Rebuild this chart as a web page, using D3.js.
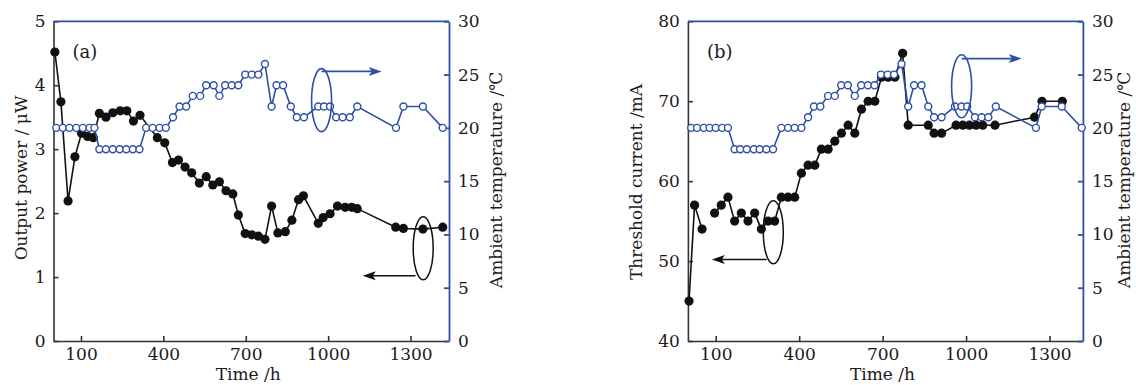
<!DOCTYPE html>
<html>
<head>
<meta charset="utf-8">
<script src="https://cdn.jsdelivr.net/npm/d3@7/dist/d3.min.js"></script>
<style>
  body { margin: 0; background: #fff; }
  svg { display: block; }
  text { font-family: "DejaVu Serif", "Liberation Serif", serif; fill: #1a1a1a; }
</style>
</head>
<body>
<svg id="chart" width="1136" height="385"></svg>
<script>
// ---- data ----
// panel (a): output power (uW) vs time (h)
const powerTime = [5, 27, 53, 78, 102, 124, 145, 167, 191, 216, 243, 267, 291, 315, 378, 405,
  433, 455, 479, 503, 531, 556, 580, 604, 628, 653, 673, 698, 722, 746, 770,
  794, 817, 844, 868, 892, 910, 964, 982, 1007, 1034, 1062, 1086, 1106, 1246, 1274, 1345, 1417]
const power = [4.52, 3.74, 2.19, 2.88, 3.25, 3.20, 3.18, 3.56, 3.50, 3.57, 3.60, 3.60, 3.44, 3.53, 3.18, 3.10,
  2.79, 2.83, 2.72, 2.63, 2.47, 2.57, 2.44, 2.49, 2.35, 2.30, 1.97, 1.68, 1.66, 1.64, 1.59,
  2.11, 1.69, 1.71, 1.89, 2.21, 2.27, 1.84, 1.93, 1.99, 2.11, 2.09, 2.09, 2.07, 1.78, 1.76, 1.75, 1.78]

// panel (b): threshold current (mA) vs time (h); null = break in the line
const currentTime = [4, 24, 51, 75, 96, 120, 144, 168, 192, 216, 240, 264, 288, 312, 336, 360, 384, 408,
  432, 456, 480, 504, 528, 552, 576, 600, 624, 648, 672, 696, 720, 744,
  772, 792, 864, 885, 912, 964, 988, 1012, 1036, 1060, 1104, 1246, 1273, 1346]
const current = [45, 57, 54, null, 56, 57, 58, 55, 56, 55, 56, 54, 55, 55, 58, 58, 58, 61,
  62, 62, 64, 64, 65, 66, 67, 66, 69, 70, 70, 73, 73, 73,
  76, 67, 67, 66, 66, 67, 67, 67, 67, 67, 67, 68, 70, 70]

// ambient temperature (deg C), same record shown in both panels
const tempTimeA = [10, 34, 58, 83, 107, 131, 149, 167, 191, 216, 241, 265, 289, 313, 337, 361, 386, 409,
  435, 459, 483, 507, 534, 556, 583, 604, 625, 649, 673, 698, 722, 746, 770,
  794, 812, 836, 864, 886, 912, 964, 985, 1007, 1029, 1053, 1079, 1106, 1247, 1274, 1345, 1417]
const tempTimeB = [12, 33, 57, 78, 100, 123, 144, 168, 188, 212, 237, 258, 282, 306, 336, 360, 384, 408,
  432, 453, 476, 504, 528, 551, 575, 600, 623, 647, 671, 694, 718, 741, 768,
  792, 813, 840, 864, 885, 912, 960, 984, 1004, 1032, 1056, 1080, 1107, 1251, 1272, 1344, 1416]
const temperature = [20, 20, 20, 20, 20, 20, 20, 18, 18, 18, 18, 18, 18, 18, 20, 20, 20, 20,
  21, 22, 22, 23, 23, 24, 24, 23, 24, 24, 24, 25, 25, 25, 26,
  22, 24, 24, 22, 21, 21, 22, 22, 22, 21, 21, 21, 22, 20, 22, 22, 20]

const timeTicks = [100, 400, 700, 1000, 1300]
const tempTicks = [0, 5, 10, 15, 20, 25, 30]
const powerTicks = [0, 1, 2, 3, 4, 5]
const currentTicks = [40, 50, 60, 70, 80]

const blue = '#2d50a6'
const ink = '#111'
const fmt = d3.format('d')

const svg = d3.select('#chart')
svg.append('rect').attr('width', 1136).attr('height', 385).attr('fill', '#fff')

function zip(xs, ys) {
  return xs.map((x, i) => ({ x: x, y: ys[i] }))
}

function arrowHead(g, x, y, dir, colour) {
  // dir = 1 points right, -1 points left
  const L = 13, W = 4.5, N = 3
  g.append('path')
    .attr('d', 'M' + x + ',' + y +
      'L' + (x - dir * L) + ',' + (y - W) +
      'L' + (x - dir * (L - N)) + ',' + y +
      'L' + (x - dir * L) + ',' + (y + W) + 'Z')
    .attr('fill', colour)
}

function drawPanel(o) {
  const g = svg.append('g')
  const x = d3.scaleLinear().domain([0, o.xMax]).range([o.left, o.right])
  const y = d3.scaleLinear().domain(o.yDomain).range([o.bottom, o.top])
  const yT = d3.scaleLinear().domain([0, 30]).range([o.bottom, o.top])

  // axes
  const xAxis = g.append('g').attr('transform', 'translate(0,' + o.bottom + ')')
    .call(d3.axisBottom(x).tickValues(timeTicks).tickFormat(fmt)
      .tickSizeInner(-5).tickSizeOuter(0).tickPadding(7))
  const yAxis = g.append('g').attr('transform', 'translate(' + o.left + ',0)')
    .call(d3.axisLeft(y).tickValues(o.yTicks).tickFormat(fmt)
      .tickSizeInner(-5).tickSizeOuter(0).tickPadding(8))
  const rAxis = g.append('g').attr('transform', 'translate(' + o.right + ',0)')
    .call(d3.axisRight(yT).tickValues(tempTicks).tickFormat(fmt)
      .tickSizeInner(-5).tickSizeOuter(0).tickPadding(9))

  ;[xAxis, yAxis].forEach(a => {
    a.selectAll('path, line').attr('stroke', '#333').attr('stroke-width', 1.6)
  })
  rAxis.selectAll('path, line').attr('stroke', blue).attr('stroke-width', 1.8)
  ;[xAxis, yAxis, rAxis].forEach(a => {
    a.selectAll('text').attr('font-family', '"DejaVu Serif", serif').attr('font-size', 17).attr('fill', '#1a1a1a')
  })
  // top frame
  g.append('line')
    .attr('x1', o.left).attr('x2', o.right)
    .attr('y1', o.top).attr('y2', o.top)
    .attr('stroke', blue).attr('stroke-width', 1.8)

  // black series
  const black = zip(o.blackT, o.blackV)
  g.append('path')
    .datum(black)
    .attr('fill', 'none')
    .attr('stroke', ink)
    .attr('stroke-width', 1.6)
    .attr('d', d3.line().defined(d => d.y != null).x(d => x(d.x)).y(d => y(d.y)))
  g.selectAll('.dot')
    .data(black.filter(d => d.y != null))
    .join('circle')
    .attr('cx', d => x(d.x))
    .attr('cy', d => y(d.y))
    .attr('r', 4.6)
    .attr('fill', ink)

  // temperature series
  const temp = zip(o.tempT, temperature)
  g.append('path')
    .datum(temp)
    .attr('fill', 'none')
    .attr('stroke', blue)
    .attr('stroke-width', 1.6)
    .attr('d', d3.line().x(d => x(d.x)).y(d => yT(d.y)))
  g.selectAll('.open')
    .data(temp)
    .join('circle')
    .attr('cx', d => x(d.x))
    .attr('cy', d => yT(d.y))
    .attr('r', 3.5)
    .attr('fill', '#fff')
    .attr('stroke', blue)
    .attr('stroke-width', 1.4)

  // ellipse + arrow annotations
  const bl = o.blackNote
  g.append('ellipse')
    .attr('cx', x(bl.t)).attr('cy', y(bl.v))
    .attr('rx', 10).attr('ry', 31.5)
    .attr('fill', 'none').attr('stroke', ink).attr('stroke-width', 1.5)
  g.append('line')
    .attr('x1', x(bl.from)).attr('x2', x(bl.to) + 10)
    .attr('y1', y(bl.arrowV)).attr('y2', y(bl.arrowV))
    .attr('stroke', ink).attr('stroke-width', 1.5)
  arrowHead(g, x(bl.to), y(bl.arrowV), -1, ink)

  const tn = o.tempNote
  g.append('ellipse')
    .attr('cx', x(tn.t)).attr('cy', yT(tn.v))
    .attr('rx', 10).attr('ry', 31.5)
    .attr('fill', 'none').attr('stroke', blue).attr('stroke-width', 1.6)
  g.append('line')
    .attr('x1', x(tn.t)).attr('x2', x(tn.to) - 10)
    .attr('y1', yT(tn.arrowV)).attr('y2', yT(tn.arrowV))
    .attr('stroke', blue).attr('stroke-width', 1.6)
  arrowHead(g, x(tn.to), yT(tn.arrowV), 1, blue)

  // labels
  g.append('text')
    .attr('x', o.left + 19).attr('y', o.top + 37)
    .attr('font-size', 18)
    .text(o.tag)
  g.append('text')
    .attr('x', (o.left + o.right) / 2 - 3).attr('y', 380)
    .attr('text-anchor', 'middle')
    .attr('font-size', 17)
    .text('Time /h')
  g.append('text')
    .attr('transform', 'translate(' + o.yTitleX + ',' + o.yTitleY + ') rotate(-90)')
    .attr('text-anchor', 'middle')
    .attr('dy', '0.35em')
    .attr('font-size', 17)
    .text(o.yTitle)
  g.append('text')
    .attr('transform', 'translate(' + o.rTitleX + ',180) rotate(-90)')
    .attr('text-anchor', 'middle')
    .attr('dy', '0.35em')
    .attr('font-size', 17)
    .text('Ambient temperature /℃')
}

drawPanel({
  left: 53.5, right: 449, top: 21.3, bottom: 341,
  xMax: 1440,
  yDomain: [0, 5], yTicks: powerTicks,
  yTitle: 'Output power / μW', yTitleX: 21, yTitleY: 178, rTitleX: 496,
  blackT: powerTime, blackV: power,
  tempT: tempTimeA,
  tag: '(a)',
  blackNote: { t: 1346, v: 1.45, arrowV: 1.02, from: 1318, to: 1126 },
  tempNote: { t: 976, v: 22.6, arrowV: 25.3, to: 1195 }
})

drawPanel({
  left: 687.9, right: 1082.9, top: 21.3, bottom: 341,
  xMax: 1420,
  yDomain: [40, 80], yTicks: currentTicks,
  yTitle: 'Threshold current /mA', yTitleX: 636, yTitleY: 182, rTitleX: 1124,
  blackT: currentTime, blackV: current,
  tempT: tempTimeB,
  tag: '(b)',
  blackNote: { t: 307, v: 53.6, arrowV: 50.2, from: 283, to: 86 },
  tempNote: { t: 984, v: 23.9, arrowV: 26.5, to: 1200 }
})
</script>
</body>
</html>
